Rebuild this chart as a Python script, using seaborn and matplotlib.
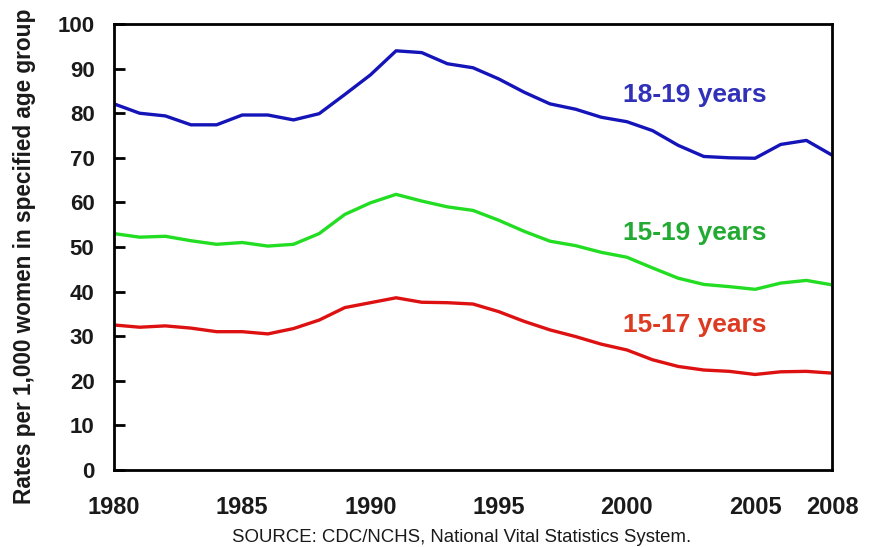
import matplotlib
matplotlib.use("Agg")
import matplotlib.pyplot as plt
import numpy as np
import pandas as pd
import seaborn as sns

# Birth rates for teenagers by age group, 1980-2008
years = list(range(1980, 2009))
rate_18_19 = [82.1, 80.0, 79.4, 77.4, 77.4, 79.6, 79.6, 78.5, 79.9, 84.2,
              88.6, 94.0, 93.6, 91.1, 90.2, 87.7, 84.7, 82.1, 80.9, 79.1,
              78.1, 76.1, 72.8, 70.3, 70.0, 69.9, 73.0, 73.9, 70.6]
rate_15_19 = [53.0, 52.2, 52.4, 51.4, 50.6, 51.0, 50.2, 50.6, 53.0, 57.3,
              59.9, 61.8, 60.3, 59.0, 58.2, 56.0, 53.5, 51.3, 50.3, 48.8,
              47.7, 45.3, 43.0, 41.6, 41.1, 40.5, 41.9, 42.5, 41.5]
rate_15_17 = [32.5, 32.0, 32.3, 31.8, 31.0, 31.0, 30.5, 31.7, 33.6, 36.4,
              37.5, 38.6, 37.6, 37.5, 37.2, 35.5, 33.3, 31.4, 29.9, 28.2,
              26.9, 24.7, 23.2, 22.4, 22.1, 21.4, 22.0, 22.1, 21.7]
groups = ["18-19 years", "15-19 years", "15-17 years"]
xtick_years = [1980, 1985, 1990, 1995, 2000, 2005, 2008]

df = pd.DataFrame({
    "Year": years * 3,
    "Rate": rate_18_19 + rate_15_19 + rate_15_17,
    "Group": [groups[0]] * len(years) + [groups[1]] * len(years) + [groups[2]] * len(years),
})

line_colors = {"18-19 years": "#1414b8", "15-19 years": "#22dd22", "15-17 years": "#dd1111"}
label_colors = {"18-19 years": "#3030b8", "15-19 years": "#22aa33", "15-17 years": "#dd3a22"}
label_y = {"18-19 years": 84.0, "15-19 years": 53.2, "15-17 years": 32.6}

sns.set_style("white")
plt.rcParams["font.family"] = ["Liberation Sans", "DejaVu Sans"]

fig = plt.figure(figsize=(8.77, 5.47), dpi=100)
ax = fig.add_axes([0.13, 0.141, 0.8187, 0.815])

sns.lineplot(data=df, x="Year", y="Rate", hue="Group", palette=line_colors,
             linewidth=2.4, legend=False, ax=ax)

# series labels instead of a legend
for g in groups:
    ax.text(1999.85, label_y[g], g, color=label_colors[g], fontsize=19,
            fontweight="bold", ha="left", va="center")

ax.set_xlim(1980, 2008)
ax.set_ylim(0, 100)
ax.set_xticks(xtick_years)
ax.set_xticklabels([str(y) for y in xtick_years], fontsize=17, fontweight="bold",
                   color="#1a1a1a")
ax.set_xticks(years[1:-1], minor=True)
ax.set_yticks(np.arange(0, 101, 10))
ax.set_yticklabels([str(v) for v in range(0, 101, 10)], fontsize=16, fontweight="bold",
                   color="#1a1a1a")

ax.tick_params(axis="x", which="major", direction="in", length=0, pad=19)
ax.tick_params(axis="x", which="minor", direction="in", length=7, width=2, color="black")
ax.tick_params(axis="y", which="major", direction="in", length=8, width=2,
               color="black", pad=14, left=True)

for s in ax.spines.values():
    s.set_visible(True)
    s.set_color("black")
    s.set_linewidth(2)

ax.set_xlabel("")
ax.set_ylabel("Rates per 1,000 women in specified age group", fontsize=16.3,
              fontweight="bold", color="#1a1a1a")
ax.yaxis.set_label_coords(-0.108, 0.478)

fig.text(0.526, 0.018, "SOURCE: CDC/NCHS, National Vital Statistics System.",
         ha="center", va="center", fontsize=13.4, color="#1a1a1a")

fig.savefig("out.png", dpi=100)
